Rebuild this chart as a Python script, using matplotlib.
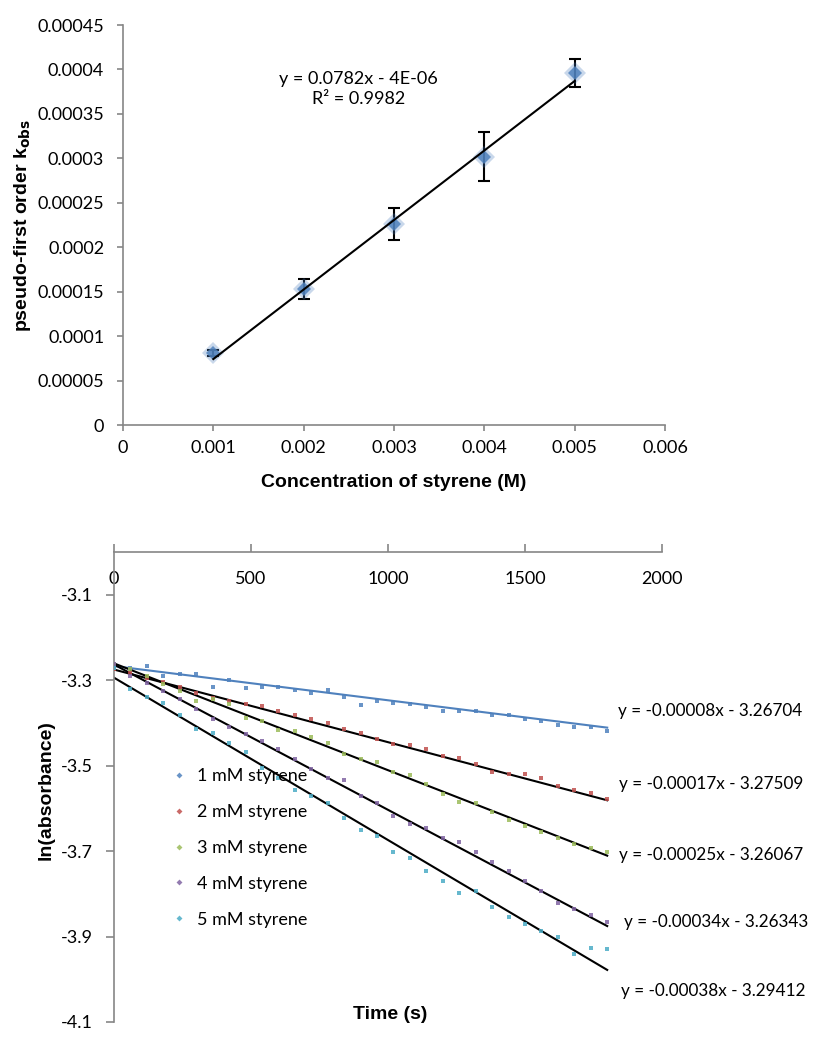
import matplotlib
matplotlib.use("Agg")
import matplotlib.pyplot as plt
import numpy as np

# top chart: k_obs vs styrene concentration
conc = [0.001, 0.002, 0.003, 0.004, 0.005]
k_obs = [0.000081, 0.000153, 0.000226, 0.000302, 0.000396]
k_err = [0.000003, 0.000011, 0.000018, 0.000028, 0.000016]
k_fit = (0.0782, -4e-06)
k_xticks = [0, 0.001, 0.002, 0.003, 0.004, 0.005, 0.006]
k_xlabels = ["0", "0.001", "0.002", "0.003", "0.004", "0.005", "0.006"]
k_yticks = [0, 0.00005, 0.0001, 0.00015, 0.0002, 0.00025, 0.0003, 0.00035, 0.0004, 0.00045]
k_ylabels = ["0", "0.00005", "0.0001", "0.00015", "0.0002", "0.00025",
             "0.0003", "0.00035", "0.0004", "0.00045"]

# bottom chart: ln(absorbance) vs time
time_s = list(range(0, 1860, 60))
ln_abs = {
    "1 mM styrene": [-3.267, -3.272, -3.267, -3.291, -3.286, -3.286, -3.316, -3.300,
                     -3.319, -3.316, -3.316, -3.323, -3.330, -3.323, -3.340, -3.358,
                     -3.349, -3.354, -3.356, -3.363, -3.372, -3.372, -3.372, -3.381,
                     -3.381, -3.391, -3.395, -3.405, -3.409, -3.409, -3.419],
    "2 mM styrene": [-3.274, -3.284, -3.295, -3.305, -3.316, -3.330, -3.342, -3.349,
                     -3.356, -3.361, -3.372, -3.381, -3.391, -3.400, -3.414, -3.423,
                     -3.437, -3.449, -3.451, -3.461, -3.477, -3.481, -3.495, -3.514,
                     -3.519, -3.519, -3.530, -3.547, -3.556, -3.565, -3.579],
    "3 mM styrene": [-3.261, -3.274, -3.291, -3.309, -3.326, -3.349, -3.344, -3.356,
                     -3.388, -3.395, -3.416, -3.419, -3.433, -3.447, -3.472, -3.484,
                     -3.491, -3.514, -3.523, -3.542, -3.567, -3.586, -3.588, -3.609,
                     -3.628, -3.642, -3.656, -3.670, -3.684, -3.693, -3.702],
    "4 mM styrene": [-3.263, -3.291, -3.307, -3.326, -3.344, -3.367, -3.391, -3.409,
                     -3.426, -3.442, -3.461, -3.484, -3.507, -3.528, -3.533, -3.572,
                     -3.588, -3.619, -3.637, -3.647, -3.670, -3.679, -3.702, -3.726,
                     -3.747, -3.770, -3.793, -3.821, -3.835, -3.849, -3.867],
    "5 mM styrene": [-3.272, -3.321, -3.340, -3.354, -3.381, -3.414, -3.423, -3.447,
                     -3.467, -3.505, -3.528, -3.556, -3.572, -3.588, -3.623, -3.651,
                     -3.665, -3.702, -3.716, -3.747, -3.770, -3.798, -3.793, -3.830,
                     -3.854, -3.870, -3.886, -3.900, -3.940, -3.926, -3.928],
}
fits = [(-0.00008, -3.26704), (-0.00017, -3.27509), (-0.00025, -3.26067),
        (-0.00034, -3.26343), (-0.00038, -3.29412)]
fit_labels = ["y = -0.00008x - 3.26704", "y = -0.00017x - 3.27509",
              "y = -0.00025x - 3.26067", "y = -0.00034x - 3.26343",
              "y = -0.00038x - 3.29412"]
label_pos = [(1838, -3.372), (1842, -3.542), (1842, -3.709), (1860, -3.867), (1852, -4.028)]
colors = ["#4F81BD", "#C0504D", "#9BBB59", "#8064A2", "#4BACC6"]
t_ticks = [0, 500, 1000, 1500, 2000]
ln_ticks = [-4.1, -3.9, -3.7, -3.5, -3.3, -3.1]

plt.rcParams['font.family'] = ['Lato', 'DejaVu Sans']
plt.rcParams['font.size'] = 13
axis_grey = "#868686"
label_font = dict(family="Liberation Sans", weight="bold", size=14)

fig = plt.figure(figsize=(8.15, 10.49), dpi=100)

# ---- top chart
ax1 = fig.add_axes([123 / 815, 1 - 425 / 1049, 542 / 815, 400 / 1049])
ax1.errorbar(conc, k_obs, yerr=k_err, fmt="none", ecolor="black",
             elinewidth=1.5, capsize=4, capthick=1.5, zorder=2)
ax1.plot(conc, k_obs, "D", color="#4F81BD", alpha=0.3, markersize=11,
         markeredgewidth=0, zorder=3)
ax1.plot(conc, k_obs, "D", color="#4F81BD", alpha=0.85, markersize=7.5,
         markeredgewidth=0, zorder=3)
xf = np.array([conc[0], conc[-1]])
ax1.plot(xf, k_fit[0] * xf + k_fit[1], color="black", linewidth=1.5, zorder=4)
ax1.text(0.00261, 0.000378, "y = 0.0782x - 4E-06\nR² = 0.9982", ha="center",
         va="center", fontsize=13, linespacing=1.35)
ax1.set_xlim(0, 0.006)
ax1.set_ylim(0, 0.00045)
ax1.set_xticks(k_xticks)
ax1.set_xticklabels(k_xlabels)
ax1.set_yticks(k_yticks)
ax1.set_yticklabels(k_ylabels)
for s in ["top", "right"]:
    ax1.spines[s].set_visible(False)
for s in ["left", "bottom"]:
    ax1.spines[s].set_color(axis_grey)
    ax1.spines[s].set_linewidth(1.2)
ax1.tick_params(axis="both", color=axis_grey, width=1.2, length=4.5)
ax1.tick_params(axis="x", pad=6)
ax1.tick_params(axis="y", pad=9)
ax1.set_xlabel("Concentration of styrene (M)", **label_font)
ax1.set_ylabel("pseudo-first order k$_{\\mathbf{obs}}$", **label_font)
ax1.xaxis.set_label_coords(0.5, -0.122)
ax1.yaxis.set_label_coords(-0.166, 0.5)

# ---- bottom chart
ax2 = fig.add_axes([114 / 815, 1 - 1022 / 1049, 548 / 815, 470 / 1049])
tf = np.array([0, time_s[-1]])
for (name, vals), c, (m, b), txt, pos in zip(ln_abs.items(), colors, fits,
                                             fit_labels, label_pos):
    ax2.plot(time_s, vals, "s", color=c, markersize=3.5, markeredgewidth=0,
             alpha=0.85, label=name, zorder=3)
    line_color = c if name.startswith("1 ") else "black"
    ax2.plot(tf, m * tf + b, color=line_color, linewidth=1.5, zorder=2)
    ax2.text(pos[0], pos[1], txt, ha="left", va="center", fontsize=12.3,
             clip_on=False)

ax2.set_xlim(0, 2000)
ax2.set_ylim(-4.1, -3.0)
ax2.set_xticks(t_ticks)
ax2.set_yticks(ln_ticks)
ax2.set_yticklabels([f"{v:.1f}" for v in ln_ticks])
ax2.xaxis.tick_top()
for s in ["bottom", "right"]:
    ax2.spines[s].set_visible(False)
for s in ["left", "top"]:
    ax2.spines[s].set_color(axis_grey)
    ax2.spines[s].set_linewidth(1.2)
ax2.tick_params(axis="both", color=axis_grey, width=1.2, length=5.5)
ax2.tick_params(axis="x", direction="out", pad=-31)
ax2.tick_params(axis="y", pad=10)
ax2.xaxis.set_label_position("bottom")
ax2.set_xlabel("Time (s)", **label_font)
ax2.set_ylabel("ln(absorbance)", **label_font)
ax2.xaxis.set_label_coords(0.504, 0.035)
ax2.yaxis.set_label_coords(-0.108, 0.494)

handles, labels = ax2.get_legend_handles_labels()
leg = ax2.legend(handles, labels, loc="upper left", bbox_to_anchor=(0.105, 0.54),
                 frameon=False, borderpad=0, borderaxespad=0, handlelength=0.8,
                 handletextpad=0.6, labelspacing=1.1, fontsize=13)
for h in leg.legend_handles:
    h.set_marker("D")
    h.set_markersize(3)

fig.savefig("out.png", dpi=100)
